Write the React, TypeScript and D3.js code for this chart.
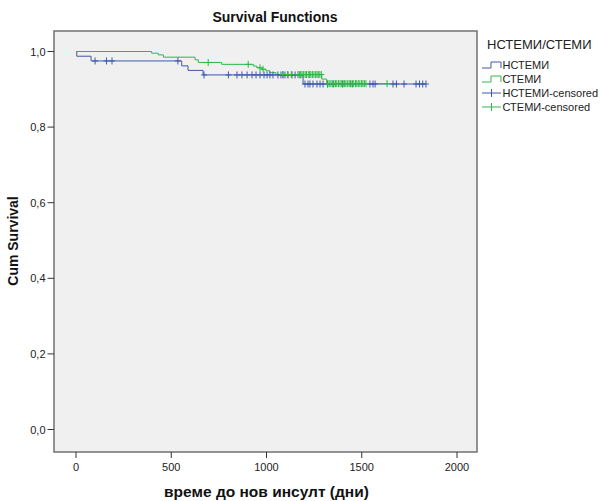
import React from "react";
import * as d3 from "d3";

// ---- data ----
const groups = ["НСТЕМИ", "СТЕМИ"];
const legendTitle = "НСТЕМИ/СТЕМИ";
const xTicks = [0, 500, 1000, 1500, 2000];
const yTicks = [0, 0.2, 0.4, 0.6, 0.8, 1.0];

const nstemiTimes = [0, 4, 79, 555, 588, 667, 1192];
const nstemiSurv = [1, 0.9875, 0.975, 0.962, 0.95, 0.938, 0.914];
const nstemiEnd = 1837;
const nstemiCensored = [100, 160, 189, 535, 672, 800, 845, 871, 898, 924, 945, 966, 987, 1003, 1018, 1034, 1060, 1076, 1087, 1097, 1113, 1134, 1150, 1176, 1202, 1218, 1228, 1244, 1265, 1281, 1297, 1320, 1350, 1400, 1450, 1543, 1559, 1570, 1664, 1682, 1722, 1785, 1803, 1820, 1837];

const stemiTimes = [0, 397, 432, 459, 625, 642, 765, 931, 949, 975, 997, 1018, 1050, 1290, 1316];
const stemiSurv = [1, 0.9955, 0.991, 0.985, 0.978, 0.971, 0.966, 0.9615, 0.957, 0.953, 0.949, 0.944, 0.939, 0.927, 0.915];
const stemiEnd = 1638;
const stemiCensored = [694, 904, 966, 982, 1085, 1110, 1130, 1165, 1171, 1180, 1187, 1195, 1203, 1210, 1219, 1226, 1233, 1241, 1249, 1258, 1265, 1272, 1280, 1288, 1322, 1329, 1338, 1345, 1354, 1362, 1369, 1378, 1386, 1395, 1402, 1410, 1417, 1426, 1434, 1441, 1450, 1458, 1467, 1474, 1482, 1490, 1499, 1506, 1514, 1522, 1633];

const BLUE = "#3E58AC";
const GREEN = "#2EB848";
const FONT = "'Liberation Sans', Arial, sans-serif";

export default function App() {
  const W = 601, H = 501;
  const frame = { left: 54, top: 31, right: 477, bottom: 452 };
  const x = d3.scaleLinear().domain([0, 2000]).range([76, 457]);
  const y = d3.scaleLinear().domain([0, 1]).range([429.5, 51.5]);

  const stepFn = (times: number[], surv: number[]) => (t: number) => {
    const i = d3.bisectRight(times, t) - 1;
    return surv[Math.max(0, i)];
  };

  const makePath = (times: number[], surv: number[], end: number) => {
    const pts: [number, number][] = times.map((t, i) => [t, surv[i]]);
    pts.push([end, surv[surv.length - 1]]);
    const line = d3.line<[number, number]>().x(d => x(d[0])).y(d => y(d[1])).curve(d3.curveStepAfter);
    return line(pts) || "";
  };

  const series = [
    { times: nstemiTimes, surv: nstemiSurv, end: nstemiEnd, cens: nstemiCensored, color: BLUE },
    { times: stemiTimes, surv: stemiSurv, end: stemiEnd, cens: stemiCensored, color: GREEN },
  ];

  const legendItems = [
    { label: groups[0], color: BLUE, type: "step" },
    { label: groups[1], color: GREEN, type: "step" },
    { label: groups[0] + "-censored", color: BLUE, type: "cens" },
    { label: groups[1] + "-censored", color: GREEN, type: "cens" },
  ];

  return (
    <div style={{ position: "fixed", left: 0, top: 0 }}>
      <svg width={W} height={H} style={{ display: "block", background: "#fff" }} fontFamily={FONT}>
        <text x={275} y={22} textAnchor="middle" fontSize={14} fontWeight="bold" fill="#111">Survival Functions</text>
        <rect x={frame.left} y={frame.top} width={frame.right - frame.left} height={frame.bottom - frame.top} fill="#F0F0F0" stroke="#707070" strokeWidth={1.5} />

        {/* y axis */}
        {yTicks.map(v => (
          <g key={"y" + v}>
            <line x1={47.5} x2={frame.left} y1={y(v)} y2={y(v)} stroke="#333" strokeWidth={1} />
            <text x={45.5} y={y(v) + 4} textAnchor="end" fontSize={11} fill="#222">{d3.format(".1f")(v).replace(".", ",")}</text>
          </g>
        ))}
        {/* x axis */}
        {xTicks.map(v => (
          <g key={"x" + v}>
            <line x1={x(v)} x2={x(v)} y1={frame.bottom} y2={frame.bottom + 6} stroke="#333" strokeWidth={1} />
            <text x={x(v)} y={470.5} textAnchor="middle" fontSize={11} fill="#222">{v}</text>
          </g>
        ))}
        <text x={266.5} y={497} textAnchor="middle" fontSize={15.5} fontWeight="bold" fill="#111">време до нов инсулт (дни)</text>
        <text transform={`translate(18,241) rotate(-90)`} textAnchor="middle" fontSize={14} fontWeight="bold" fill="#111">Cum Survival</text>

        {/* curves */}
        {series.map((s, i) => (
          <path key={"p" + i} d={makePath(s.times, s.surv, s.end)} fill="none" stroke={s.color} strokeWidth={1} />
        ))}
        {series.map((s, i) => {
          const f = stepFn(s.times, s.surv);
          return (
            <g key={"c" + i} stroke={s.color} strokeWidth={1}>
              {s.cens.map((t, j) => {
                const cx = x(t), cy = y(f(t));
                return (
                  <g key={j}>
                    <line x1={cx} x2={cx} y1={cy - 3.5} y2={cy + 3.5} />
                    <line x1={cx - 3} x2={cx + 3} y1={cy} y2={cy} />
                  </g>
                );
              })}
            </g>
          );
        })}

        {/* legend */}
        <text x={487} y={49} fontSize={13} fill="#222">{legendTitle}</text>
        {legendItems.map((it, i) => {
          const ly = 65 + i * 14;
          return (
            <g key={"l" + i}>
              {it.type === "step" ? (
                <path d={`M482,${ly + 3}H491V${ly - 3}H501V${ly + 3}`} fill="none" stroke={it.color} strokeWidth={1} />
              ) : (
                <g stroke={it.color} strokeWidth={1}>
                  <line x1={482} x2={501} y1={ly} y2={ly} />
                  <line x1={491.5} x2={491.5} y1={ly - 4} y2={ly + 4} />
                </g>
              )}
              <text x={502.5} y={ly + 4} fontSize={11} fill="#222">{it.label}</text>
            </g>
          );
        })}
      </svg>
    </div>
  );
}
